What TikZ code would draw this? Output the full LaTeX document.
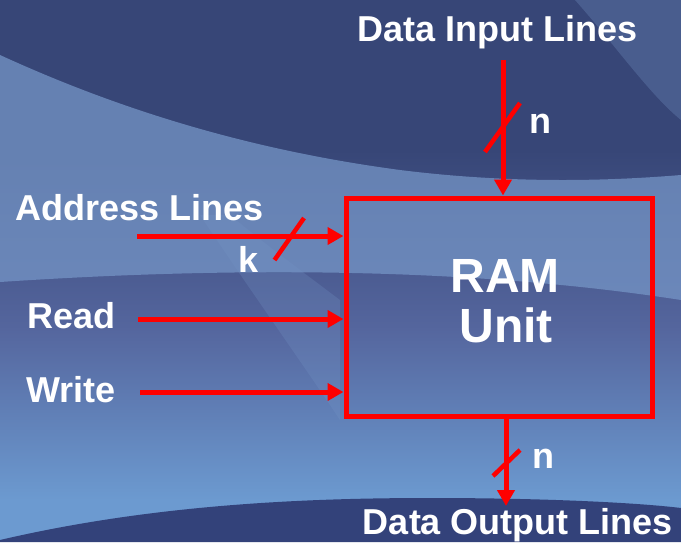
\documentclass[tikz,border=0pt]{standalone}
\usepackage{fontspec}
\setmainfont{Liberation Sans}
\usetikzlibrary{arrows.meta}

\definecolor{bgtop}{HTML}{374677}
\definecolor{bgmid}{HTML}{55669E}
\definecolor{bglow}{HTML}{6C9AD0}
\definecolor{swoosh}{HTML}{7595C6}
\definecolor{bgband}{HTML}{33427A}
\definecolor{busred}{HTML}{FF0000}

\tikzset{
  bus/.style={draw=busred, line width=5pt},
  arr/.style={bus, -{Triangle[length=16pt,width=17pt]}},
  tick/.style={draw=busred, line width=4.5pt},
  lbl/.style={text=white, inner sep=0pt, font=\fontsize{36}{40}\selectfont\bfseries},
  biglbl/.style={text=white, inner sep=0pt, font=\fontsize{48}{50}\selectfont\bfseries},
  unitbox/.style={draw=busred, line width=5pt, minimum width=306pt, minimum height=218pt, inner sep=0pt}
}

\begin{document}
\begin{tikzpicture}[x=1pt, y=-1pt]
  \useasboundingbox (0,0) rectangle (681,542);

  % backdrop: dark navy top fading to light blue lower down
  \fill[bgtop] (0,0) rectangle (681,542);
  \shade[top color=bgtop, bottom color=bgmid] (0,150) rectangle (681,330);
  \shade[top color=bgmid, bottom color=bglow] (0,329) rectangle (681,500);
  \fill[bglow] (0,499) rectangle (681,542);

  % light sweeping band across the middle
  \fill[swoosh, opacity=0.75]
    (0,55) .. controls (120,110) and (250,150) .. (400,170)
           .. controls (520,185) and (620,180) .. (681,175)
    -- (681,300)
    .. controls (520,275) and (300,262) .. (0,282) -- cycle;
  \fill[swoosh, opacity=0.3]
    (575,0) .. controls (615,45) and (650,95) .. (681,120) -- (681,0) -- cycle;
  \fill[swoosh, opacity=0.25]
    (200,215) .. controls (250,290) and (300,360) .. (340,420)
    -- (340,300) .. controls (300,270) and (260,240) .. (230,215) -- cycle;

  % dark band along the bottom
  \fill[bgband]
    (0,540) .. controls (150,505) and (300,498) .. (430,498)
            .. controls (550,498) and (640,503) .. (681,508)
    -- (681,542) -- (0,542) -- cycle;

  % the memory unit
  \node[unitbox] (ram) at (499,307) {};
  \node[biglbl, anchor=base] (ramtxt) at (505,292) {RAM};
  \node[biglbl, anchor=base] (unittxt) at (506,342) {Unit};

  % bus and control line end points
  \coordinate (din)   at (503,60);
  \coordinate (dout)  at (506,506);
  \coordinate (addr)  at (137,236);
  \coordinate (rd)    at (138,319);
  \coordinate (wr)    at (140,392);

  % connectors into and out of the unit
  \draw[arr] (din) -- (din |- ram.north);
  \draw[arr] (ram.south -| dout) -- (dout);
  \draw[arr] (addr) -- (addr -| ram.west);
  \draw[arr] (rd) -- (rd -| ram.west);
  \draw[arr] (wr) -- (wr -| ram.west);

  % bus width slashes
  \draw[tick] (485,152) -- (520,103);
  \draw[tick] (274.5,260) -- (304,218);
  \draw[tick] (493,476) -- (520,450);

  % labels
  \node[lbl, anchor=base] (tin) at (498,41) {Data Input Lines};
  \node[lbl, anchor=base] (tout) at (518,534) {Data Output Lines};
  \node[lbl, anchor=base west] (taddr) at (15,220) {Address Lines};
  \node[lbl, anchor=base west] (tread) at (27,328) {Read};
  \node[lbl, anchor=base west] (twrite) at (26,402) {Write};
  \node[lbl, anchor=base west] (tk) at (238,272) {k};
  \node[lbl, anchor=base west] (tn1) at (529,133) {n};
  \node[lbl, anchor=base west] (tn2) at (532,468) {n};
\end{tikzpicture}
\end{document}
